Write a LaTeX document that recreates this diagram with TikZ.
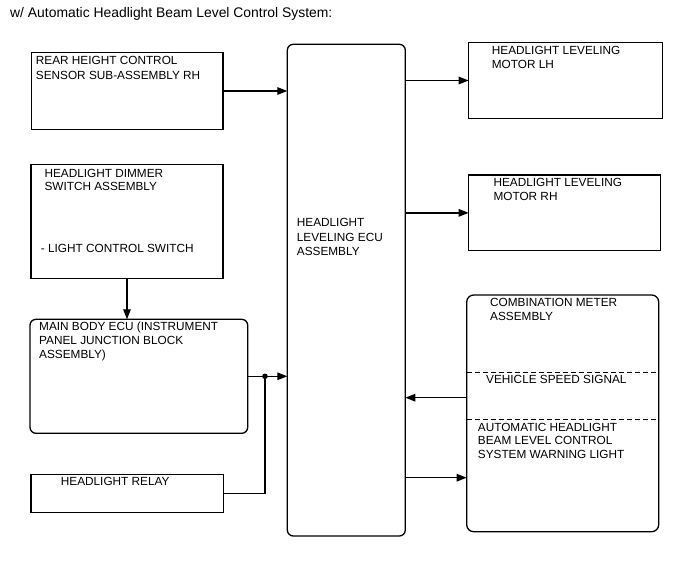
\documentclass[tikz,border=0pt]{standalone}
\usepackage{fontspec}
\setmainfont{Liberation Sans}
\usetikzlibrary{arrows.meta}
\tikzset{
  box/.style={draw, line width=1.3pt, inner sep=0pt, outer sep=0pt, minimum width=#1},
  rbox/.style={box=#1, rounded corners=6pt},
  lbl/.style={anchor=base west, inner sep=0pt, font=\fontsize{11.8}{14}\selectfont},
  ttl/.style={anchor=base west, inner sep=0pt, font=\fontsize{13.9}{16}\selectfont},
  conn/.style={line width=1.3pt},
  arr/.style={conn, -{Triangle[length=10pt,width=7.5pt]}},
  sep/.style={line width=1.1pt, dash pattern=on 5pt off 3pt}
}
\begin{document}
\begin{tikzpicture}[x=1pt,y=-1pt]
\useasboundingbox (0,0) rectangle (688,560);
\node[ttl] (title) at (10,17.3) {w/ Automatic Headlight Beam Level Control System:};

% boxes
\node[box=191.3pt, minimum height=76.6pt] (rear) at (127.35,91) {};
\node[box=192pt, minimum height=114.4pt] (dimmer) at (127,221.5) {};
\node[rbox=217.7pt, minimum height=114pt] (mainbody) at (138.85,376.3) {};
\node[box=192.3pt, minimum height=38pt] (relay) at (127.15,493.3) {};
\node[rbox=118pt, minimum height=491.7pt] (ecu) at (346.3,290.15) {};
\node[box=193.6pt, minimum height=75.6pt] (motorlh) at (565.5,80.5) {};
\node[box=191.6pt, minimum height=75.7pt] (motorrh) at (564.5,212.85) {};
\node[rbox=192pt, minimum height=236.7pt, rounded corners=7pt] (combo) at (562.7,413.35) {};

% texts
\node[lbl] (t1a) at (35.7,64.5) {REAR HEIGHT CONTROL};
\node[lbl] (t1b) at (35.7,79) {SENSOR SUB-ASSEMBLY RH};
\node[lbl] (t2a) at (44.3,177.3) {HEADLIGHT DIMMER};
\node[lbl] (t2b) at (44.3,190.7) {SWITCH ASSEMBLY};
\node[lbl] (t2c) at (40.7,252) {- LIGHT CONTROL SWITCH};
\node[lbl] (t3a) at (39,330) {MAIN BODY ECU (INSTRUMENT};
\node[lbl] (t3b) at (39,344.3) {PANEL JUNCTION BLOCK};
\node[lbl] (t3c) at (39,358.5) {ASSEMBLY)};
\node[lbl] (t4a) at (60.7,485) {HEADLIGHT RELAY};
\node[lbl] (t5a) at (296.7,226.7) {HEADLIGHT};
\node[lbl] (t5b) at (296.7,241) {LEVELING ECU};
\node[lbl] (t5c) at (296.7,255.3) {ASSEMBLY};
\node[lbl] (t6a) at (491.7,54.3) {HEADLIGHT LEVELING};
\node[lbl] (t6b) at (491.7,68.3) {MOTOR LH};
\node[lbl] (t7a) at (493.3,186.7) {HEADLIGHT LEVELING};
\node[lbl] (t7b) at (493.3,200) {MOTOR RH};
\node[lbl] (t8a) at (490,306.7) {COMBINATION METER};
\node[lbl] (t8b) at (490,320) {ASSEMBLY};
\node[lbl] (t8c) at (486,383.3) {VEHICLE SPEED SIGNAL};
\node[lbl] (t8d) at (477.7,431) {AUTOMATIC HEADLIGHT};
\node[lbl] (t8e) at (477.7,444.7) {BEAM LEVEL CONTROL};
\node[lbl] (t8f) at (477.7,458.5) {SYSTEM WARNING LIGHT};

% dashed separators in combination meter
\coordinate (d1) at (0,372.7);
\coordinate (d2) at (0,419.7);
\draw[sep] (combo.west |- d1) -- (combo.east |- d1);
\draw[sep] (combo.west |- d2) -- (combo.east |- d2);

% connectors
\draw[arr] (rear.east) -- (ecu.west |- rear.east);
\draw[arr] (ecu.east |- motorlh.west) -- (motorlh.west);
\draw[arr] (ecu.east |- motorrh.west) -- (motorrh.west);
\draw[arr] (dimmer.south) -- (mainbody.north -| dimmer.south);
\coordinate (j) at (265,376.3);
\draw[conn] (mainbody.east) -- (j);
\draw[arr] (j) -- (ecu.west |- j);
\draw[conn] (relay.east) -| (j);
\fill (j) circle (2.8pt);
\coordinate (vs) at (0,397.7);
\coordinate (wl) at (0,477.7);
\draw[arr] (combo.west |- vs) -- (ecu.east |- vs);
\draw[arr] (ecu.east |- wl) -- (combo.west |- wl);
\end{tikzpicture}
\end{document}
